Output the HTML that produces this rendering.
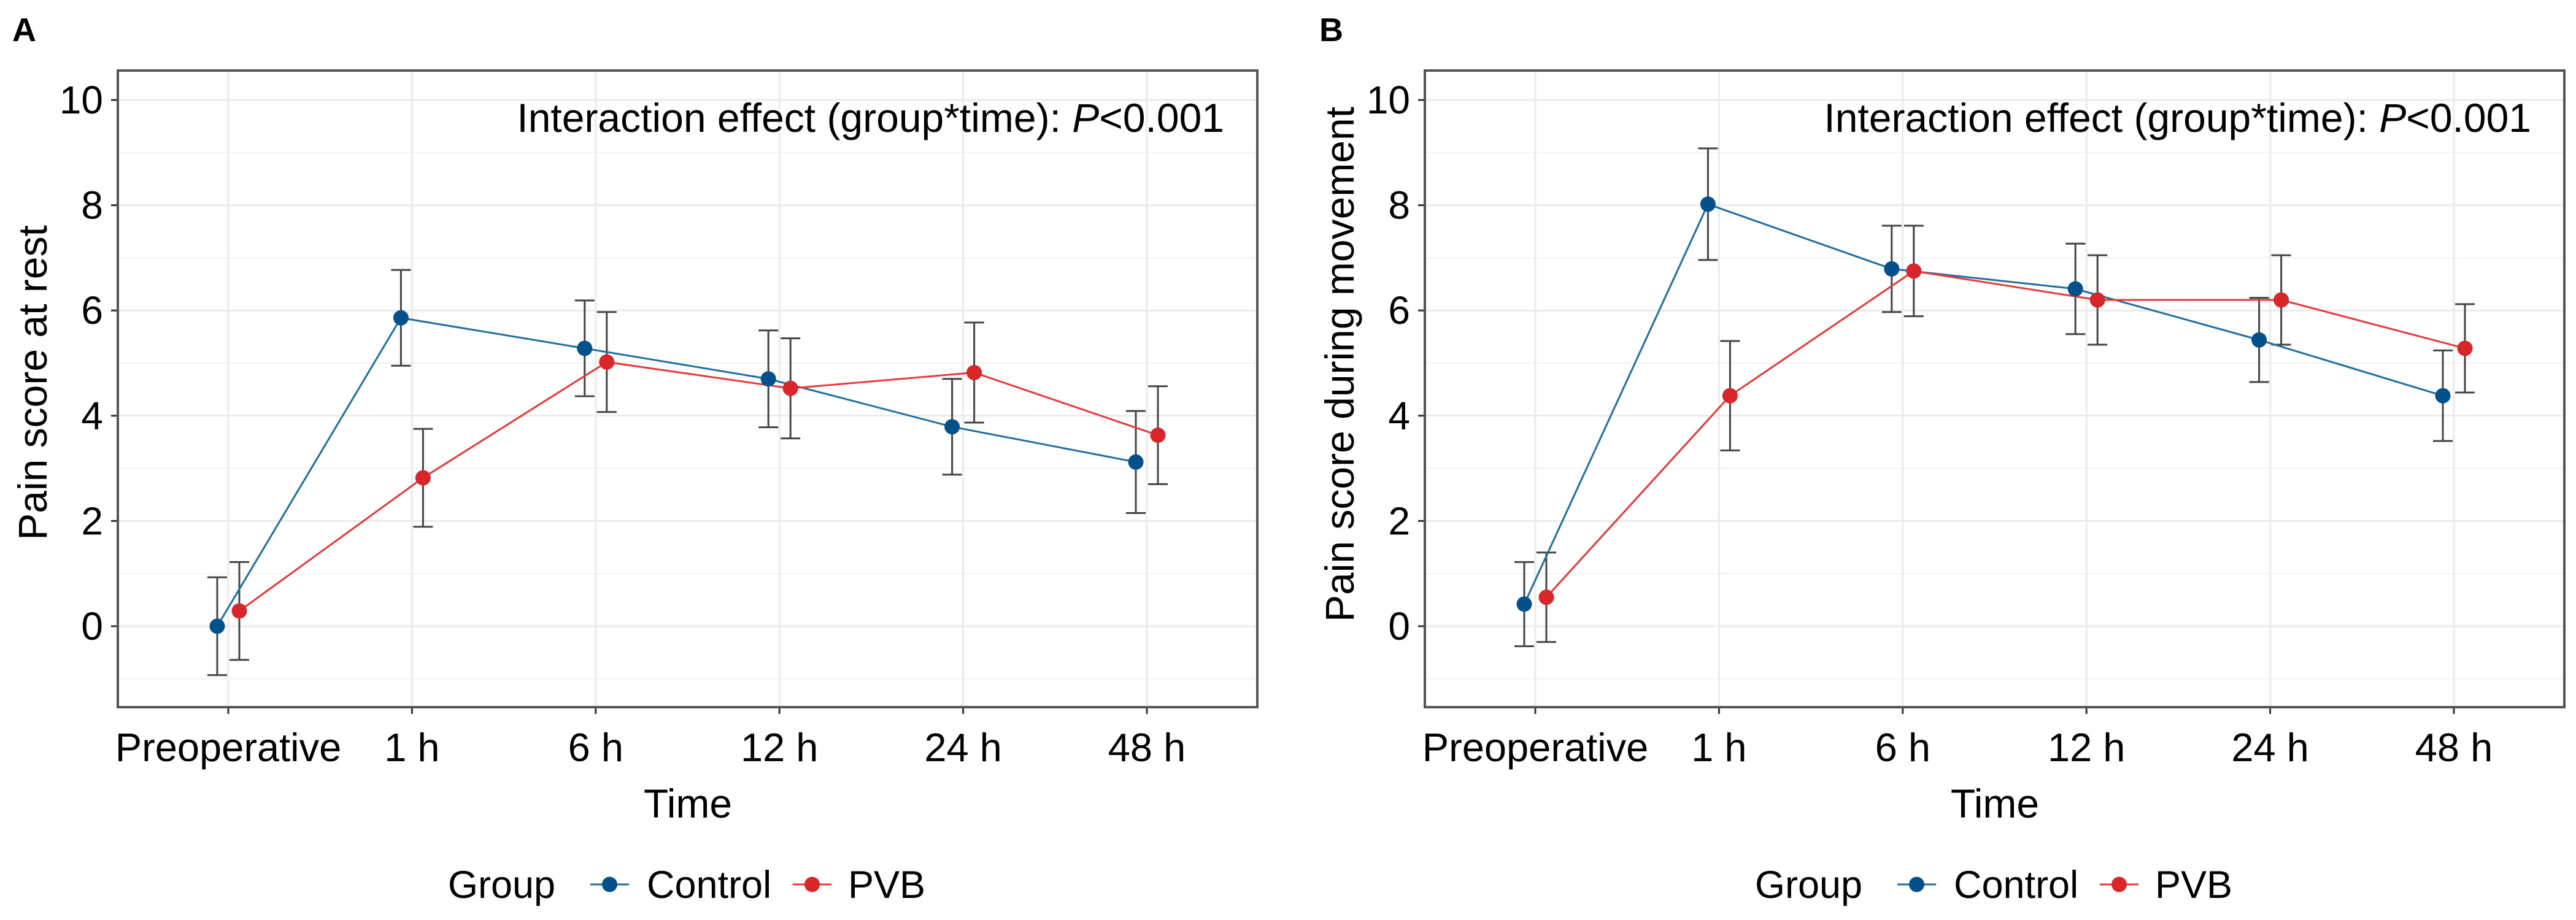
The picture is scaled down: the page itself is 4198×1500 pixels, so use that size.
<!DOCTYPE html>
<html><head><meta charset="utf-8"><style>
html,body{margin:0;padding:0;background:#fff}
svg{display:block}
text{font-family:"Liberation Sans",Arial,sans-serif;fill:#000}
</style></head><body>
<svg id="chart" width="4198" height="1500" viewBox="0 0 4198 1500" xmlns="http://www.w3.org/2000/svg"></svg>
<script>
const categories = ["Preoperative","1 h","6 h","12 h","24 h","48 h"];
const yTicks = [0,2,4,6,8,10];
const restControlMean = [0, 5.86, 5.28, 4.70, 3.79, 3.12];
const restControlSd   = [0.93, 0.91, 0.91, 0.92, 0.91, 0.97];
const restPvbMean     = [0.29, 2.82, 5.02, 4.52, 4.82, 3.63];
const restPvbSd       = [0.93, 0.93, 0.95, 0.95, 0.95, 0.93];
const moveControlMean = [0.42, 8.02, 6.79, 6.41, 5.44, 4.38];
const moveControlSd   = [0.80, 1.06, 0.82, 0.86, 0.80, 0.86];
const movePvbMean     = [0.55, 4.38, 6.75, 6.20, 6.20, 5.28];
const movePvbSd       = [0.85, 1.04, 0.86, 0.85, 0.85, 0.84];

const NS = "http://www.w3.org/2000/svg";
const svg = document.getElementById("chart");
function mk(tag, attrs, parent){
  const e = document.createElementNS(NS, tag);
  for (const k in attrs) e.setAttribute(k, attrs[k]);
  (parent||svg).appendChild(e);
  return e;
}
const TOP=115, BOT=1153, Y0=1021, PXU=85.8;
function yS(v){ return Y0 - v*PXU; }

function panel(off, letter, ytitle, ctrlM, ctrlS, pvbM, pvbS, key){
  const L=192+off, R=2049+off;
  const g = mk("g", {});
  
  
  function xS(i){ return 372 + off + i*299.4; }
  const bg = mk("rect", {x:L, y:TOP, width:R-L, height:BOT-TOP, fill:"#fff"}, g);
  
  
  for (let v=-1; v<=9; v+=2){
    const l = mk("line", {x1:L, x2:R, y1:yS(v), y2:yS(v), stroke:"#f2f2f2", "stroke-width":2}, g);
    
    
  }
  yTicks.forEach(v=>{
    const l = mk("line", {x1:L, x2:R, y1:yS(v), y2:yS(v), stroke:"#ebebeb", "stroke-width":3}, g);
    
    
    const t = mk("line", {x1:L-11, x2:L, y1:yS(v), y2:yS(v), stroke:"#333", "stroke-width":3}, g);
    
    
    const tx = mk("text", {x:L-24, y:yS(v)+22, "font-size":64, "text-anchor":"end", fill:"#1a1a1a"}, g);
    
    
    tx.textContent = v;
  });
  categories.forEach((c,i)=>{
    const l = mk("line", {x1:xS(i), x2:xS(i), y1:TOP, y2:BOT, stroke:"#ebebeb", "stroke-width":3}, g);
    
    
    const t = mk("line", {x1:xS(i), x2:xS(i), y1:BOT, y2:BOT+11, stroke:"#333", "stroke-width":3}, g);
    
    
    const tx = mk("text", {x:xS(i), y:1241, "font-size":65, "text-anchor":"middle", fill:"#1a1a1a"}, g);
    
    
    tx.textContent = c;
  });
  const fr = mk("rect", {x:L, y:TOP, width:R-L, height:BOT-TOP, fill:"none", stroke:"#555", "stroke-width":4}, g);
  
  

  const series = [
    {m:ctrlM, s:ctrlS, dx:-18, line:"#1f6fa5", pt:"#03508a", name:"control"},
    {m:pvbM, s:pvbS, dx:18, line:"#e8393b", pt:"#d9262b", name:"pvb"}
  ];
  series.forEach(sr=>{
    sr.m.forEach((v,i)=>{
      const x = xS(i)+sr.dx;
      const eg = mk("g", {stroke:"#444", "stroke-width":3}, g);
      
      
      mk("line", {x1:x, x2:x, y1:yS(v+sr.s[i]), y2:yS(v-sr.s[i])}, eg);
      mk("line", {x1:x-16, x2:x+16, y1:yS(v+sr.s[i]), y2:yS(v+sr.s[i])}, eg);
      mk("line", {x1:x-16, x2:x+16, y1:yS(v-sr.s[i]), y2:yS(v-sr.s[i])}, eg);
    });
  });
  series.forEach(sr=>{
    const pts = sr.m.map((v,i)=>(xS(i)+sr.dx)+","+yS(v)).join(" ");
    const pl = mk("polyline", {points:pts, fill:"none", stroke:sr.line, "stroke-width":3}, g);
    
    
  });
  series.forEach(sr=>{
    sr.m.forEach((v,i)=>{
      const c = mk("circle", {cx:xS(i)+sr.dx, cy:yS(v), r:12.5, fill:sr.pt}, g);
      
      
    });
  });

  const ann = mk("text", {x:R-54, y:215, "font-size":66, "text-anchor":"end", fill:"#111"}, g);
  
  
  ann.innerHTML = 'Interaction effect (group*time): <tspan font-style="italic">P</tspan>&lt;0.001';

  const lt = mk("text", {x:20+off, y:67, "font-size":54, "font-weight":"bold"}, g);
  
  
  lt.textContent = letter;

  const yt = mk("text", {x:0, y:0, "font-size":66, "text-anchor":"middle", fill:"#111", transform:"translate("+(76+off)+","+((TOP+BOT)/2+(key==="b"?-40:-10))+") rotate(-90)"}, g);
  
  
  yt.textContent = ytitle;

  const xt = mk("text", {x:1121+off, y:1333, "font-size":66, "text-anchor":"middle", fill:"#111"}, g);
  
  
  xt.textContent = "Time";

  const lg = mk("g", {}, g);
  
  
  const gt = mk("text", {x:730+off, y:1464, "font-size":63, fill:"#111"}, lg);
  
  
  gt.textContent = "Group";
  [[962,"Control",1054,series[0]],[1292,"PVB",1382,series[1]]].forEach(e=>{
    const kg = mk("g", {}, lg);
    
    
    mk("line", {x1:e[0]+off, x2:e[0]+63+off, y1:1442, y2:1442, stroke:e[3].line, "stroke-width":3}, kg);
    mk("circle", {cx:e[0]+31.5+off, cy:1442, r:12.5, fill:e[3].pt}, kg);
    const tx = mk("text", {x:e[2]+off, y:1464, "font-size":63, fill:"#111"}, kg);
    tx.textContent = e[1];
  });
}
panel(0, "A", "Pain score at rest", restControlMean, restControlSd, restPvbMean, restPvbSd, "a");
panel(2130, "B", "Pain score during movement", moveControlMean, moveControlSd, movePvbMean, movePvbSd, "b");
</script>
</body></html>
